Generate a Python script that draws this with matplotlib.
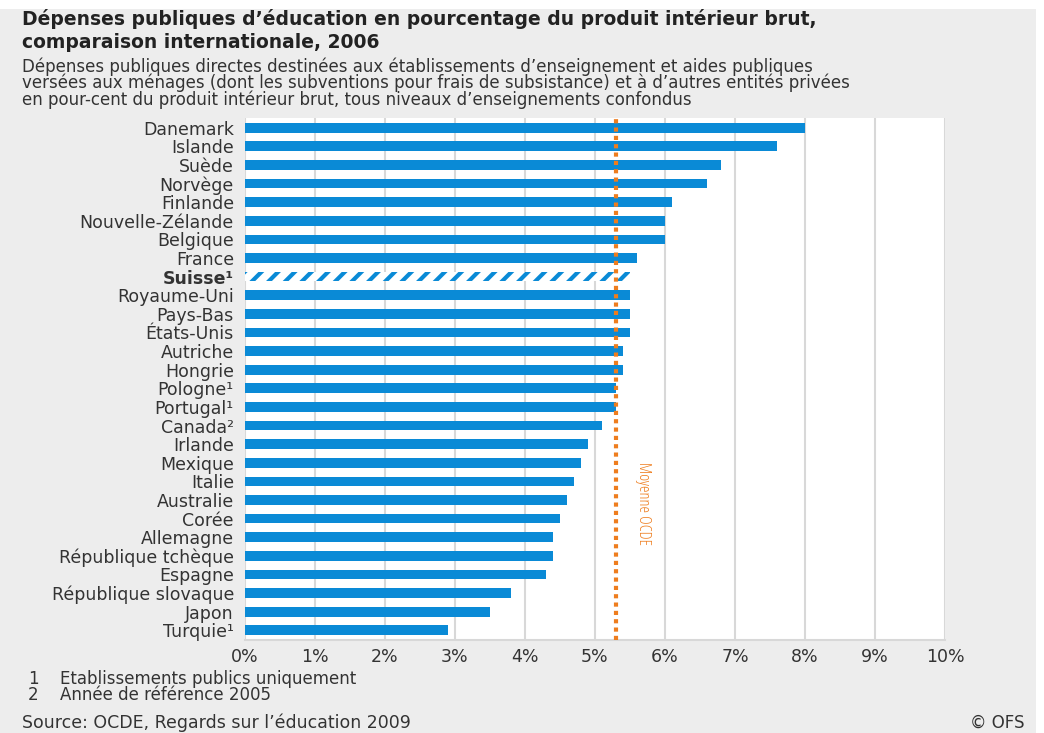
import matplotlib
matplotlib.use("Agg")
import matplotlib.pyplot as plt
from matplotlib.patches import Rectangle

countries = ["Danemark", "Islande", "Suède", "Norvège", "Finlande", "Nouvelle-Zélande",
             "Belgique", "France", "Suisse¹", "Royaume-Uni", "Pays-Bas", "États-Unis",
             "Autriche", "Hongrie", "Pologne¹", "Portugal¹", "Canada²", "Irlande",
             "Mexique", "Italie", "Australie", "Corée", "Allemagne", "République tchèque",
             "Espagne", "République slovaque", "Japon", "Turquie¹"]
values = [8.0, 7.6, 6.8, 6.6, 6.1, 6.0, 6.0, 5.6, 5.5, 5.5, 5.5, 5.5, 5.4, 5.4, 5.3, 5.3,
          5.1, 4.9, 4.8, 4.7, 4.6, 4.5, 4.4, 4.4, 4.3, 3.8, 3.5, 2.9]
highlight = "Suisse¹"
oecd_mean = 5.3
xticks = [0, 1, 2, 3, 4, 5, 6, 7, 8, 9, 10]
xticklabels = [f"{t}%" for t in xticks]

title = "Dépenses publiques d’éducation en pourcentage du produit intérieur brut,\ncomparaison internationale, 2006"
subtitle = ("Dépenses publiques directes destinées aux établissements d’enseignement et aides publiques\n"
            "versées aux ménages (dont les subventions pour frais de subsistance) et à d’autres entités privées\n"
            "en pour-cent du produit intérieur brut, tous niveaux d’enseignements confondus")
notes = [("1", "Etablissements publics uniquement"), ("2", "Année de référence 2005")]
source = "Source: OCDE, Regards sur l’éducation 2009"
copyright_txt = "© OFS"

BLUE = "#0A8AD6"
ORANGE = "#EE7D1E"
BG = "#EDEDED"
GRID = "#D8D8D8"
TXT = "#333333"

plt.rcParams['font.family'] = ['DejaVu Sans']
plt.rcParams['hatch.linewidth'] = 3.0
plt.rcParams['hatch.color'] = BLUE

fig = plt.figure(figsize=(10.44, 7.33), dpi=100)
fig.patch.set_facecolor("white")
fig.patches.append(Rectangle((0.0, 0.0), 1036/1044, 1 - 9/733, transform=fig.transFigure,
                             facecolor=BG, edgecolor="none", zorder=-10))

ax = fig.add_axes([245/1044, 1 - 640/733, 700/1044, 522/733])
ax.set_facecolor("white")
y = list(range(len(countries)))
for i, (c, v) in enumerate(zip(countries, values)):
    if c == highlight:
        ax.barh(i, v, height=0.52, color="white", edgecolor=BLUE, hatch="//", linewidth=0, zorder=3)
    else:
        ax.barh(i, v, height=0.52, color=BLUE, linewidth=0, zorder=3)

ax.set_xlim(0, 10)
ax.set_ylim(len(countries) - 0.48, -0.52)
ax.set_xticks(xticks)
ax.set_xticklabels(xticklabels, fontsize=12.5, color=TXT)
ax.set_yticks(y)
ax.set_yticklabels(countries, fontsize=12.5, color=TXT)
for lbl in ax.get_yticklabels():
    if lbl.get_text() == highlight:
        lbl.set_fontweight("bold")
ax.tick_params(axis="y", length=0, pad=8)
ax.tick_params(axis="x", length=0, pad=6)
ax.grid(axis="x", color=GRID, linewidth=1.5, zorder=0)
for s in ["top", "right", "left"]:
    ax.spines[s].set_visible(False)
ax.spines["bottom"].set_color(GRID)
ax.spines["bottom"].set_linewidth(1.5)

ax.axvline(oecd_mean, color=ORANGE, linestyle=(0, (1, 1)), linewidth=3, zorder=4)
ax.text(oecd_mean + 0.38, 20.2, "Moyenne OCDE", rotation=270, color=ORANGE,
        fontsize=12, ha="center", va="center", fontstretch="condensed",
        family=["Open Sans", "DejaVu Sans"])

fig.text(22/1044, 1 - 9/733, title, fontsize=13.5, fontweight="bold", color="#222222",
         va="top", ha="left", linespacing=1.25)
fig.text(22/1044, 1 - 57/733, subtitle, fontsize=12, color=TXT, va="top", ha="left",
         linespacing=0.89)

for k, (n, t) in enumerate(notes):
    yy = 1 - (679 + 16 * k) / 733
    fig.text(28/1044, yy, n, fontsize=12, color=TXT, va="center", ha="left")
    fig.text(60/1044, yy, t, fontsize=12, color=TXT, va="center", ha="left")
fig.text(22/1044, 1 - 723/733, source, fontsize=12.5, color=TXT, va="center", ha="left")
fig.text(1025/1044, 1 - 723/733, copyright_txt, fontsize=12, color=TXT, va="center", ha="right")

fig.savefig("out.png", dpi=100, facecolor=fig.get_facecolor())
